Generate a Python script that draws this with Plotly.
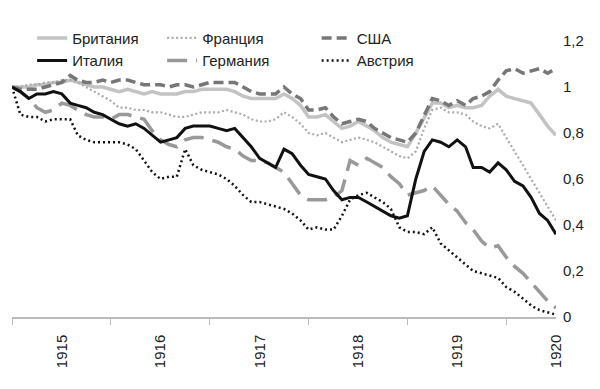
import pandas as pd
import plotly.graph_objects as go

# Monthly observations, July 1914 .. January 1920
months = pd.date_range("1914-07-01", "1920-01-01", freq="MS")

britain = [1.00, 1.00, 1.00, 1.01, 1.01, 1.02, 1.02, 1.03, 1.02, 1.01, 1.00, 1.00,
           0.99, 0.98, 0.99, 0.98, 0.97, 0.98, 0.97, 0.97, 0.97, 0.98, 0.98, 0.99,
           0.99, 0.99, 0.99, 0.98, 0.96, 0.95, 0.95, 0.95, 0.95, 0.97, 0.95, 0.92,
           0.87, 0.87, 0.88, 0.85, 0.82, 0.83, 0.85, 0.83, 0.81, 0.78, 0.76, 0.75,
           0.74, 0.80, 0.87, 0.93, 0.93, 0.91, 0.92, 0.91, 0.91, 0.92, 0.96, 0.99,
           0.96, 0.95, 0.94, 0.93, 0.88, 0.83, 0.79]
france = [1.00, 1.00, 1.01, 1.01, 1.02, 1.02, 1.03, 1.03, 1.02, 1.00, 0.98, 0.96,
          0.94, 0.91, 0.91, 0.90, 0.90, 0.89, 0.89, 0.88, 0.87, 0.87, 0.88, 0.89,
          0.89, 0.89, 0.90, 0.89, 0.88, 0.86, 0.85, 0.85, 0.86, 0.89, 0.87, 0.84,
          0.80, 0.79, 0.80, 0.78, 0.76, 0.77, 0.78, 0.77, 0.76, 0.74, 0.72, 0.70,
          0.69, 0.72, 0.82, 0.90, 0.91, 0.89, 0.89, 0.88, 0.85, 0.83, 0.82, 0.84,
          0.78, 0.72, 0.66, 0.60, 0.54, 0.48, 0.42]
usa = [1.00, 0.99, 0.99, 0.99, 1.00, 1.01, 1.02, 1.05, 1.03, 1.02, 1.02, 1.03,
       1.02, 1.03, 1.03, 1.02, 1.01, 1.01, 1.01, 1.00, 1.01, 1.01, 1.00, 1.01,
       1.02, 1.02, 1.02, 1.02, 1.00, 0.98, 0.97, 0.97, 0.97, 1.00, 0.97, 0.95,
       0.90, 0.90, 0.91, 0.87, 0.84, 0.85, 0.86, 0.85, 0.82, 0.80, 0.78, 0.77,
       0.76, 0.80, 0.88, 0.95, 0.94, 0.92, 0.94, 0.92, 0.95, 0.96, 0.98, 1.03,
       1.07, 1.08, 1.06, 1.07, 1.08, 1.06, 1.08]
italy = [1.00, 0.98, 0.95, 0.97, 0.97, 0.98, 0.97, 0.93, 0.92, 0.91, 0.89, 0.88,
         0.86, 0.84, 0.83, 0.84, 0.82, 0.79, 0.76, 0.77, 0.78, 0.82, 0.83, 0.83,
         0.83, 0.82, 0.81, 0.82, 0.78, 0.74, 0.69, 0.67, 0.65, 0.73, 0.71, 0.66,
         0.62, 0.61, 0.60, 0.55, 0.51, 0.52, 0.52, 0.50, 0.48, 0.46, 0.44, 0.43,
         0.44, 0.60, 0.72, 0.77, 0.76, 0.74, 0.77, 0.74, 0.65, 0.65, 0.63, 0.67,
         0.64, 0.59, 0.57, 0.52, 0.45, 0.42, 0.36]
germany = [1.00, 0.98, 0.95, 0.91, 0.89, 0.90, 0.93, 0.92, 0.90, 0.88, 0.87, 0.87,
           0.86, 0.88, 0.88, 0.87, 0.86, 0.81, 0.77, 0.75, 0.74, 0.77, 0.78, 0.78,
           0.77, 0.76, 0.74, 0.73, 0.70, 0.68, 0.68, 0.67, 0.65, 0.63, 0.58, 0.53,
           0.51, 0.51, 0.51, 0.52, 0.55, 0.68, 0.66, 0.69, 0.67, 0.65, 0.61, 0.58,
           0.53, 0.54, 0.55, 0.57, 0.53, 0.49, 0.46, 0.41, 0.38, 0.33, 0.30, 0.31,
           0.26, 0.22, 0.19, 0.15, 0.11, 0.07, 0.04]
austria = [1.00, 0.88, 0.87, 0.87, 0.85, 0.86, 0.86, 0.86, 0.79, 0.77, 0.76, 0.76,
           0.76, 0.76, 0.75, 0.73, 0.68, 0.63, 0.60, 0.61, 0.61, 0.73, 0.66, 0.64,
           0.63, 0.62, 0.60, 0.57, 0.53, 0.50, 0.50, 0.49, 0.48, 0.47, 0.45, 0.42,
           0.38, 0.39, 0.38, 0.38, 0.44, 0.51, 0.53, 0.54, 0.52, 0.50, 0.47, 0.39,
           0.37, 0.37, 0.36, 0.39, 0.32, 0.29, 0.26, 0.23, 0.20, 0.19, 0.18, 0.17,
           0.13, 0.11, 0.08, 0.05, 0.03, 0.02, 0.01]

year_labels = ["1915", "1916", "1917", "1918", "1919", "1920"]
year_ticks = ["1915-01-01", "1916-01-01", "1917-01-01", "1918-01-01", "1919-01-01", "1920-01-01"]
y_ticks = [0, 0.2, 0.4, 0.6, 0.8, 1.0, 1.2]
y_labels = ["0", "0,2", "0,4", "0,6", "0,8", "1", "1,2"]

FONT = "Liberation Sans, Arial, sans-serif"

series = [
    ("Британия", britain, dict(color="#c3c3c3", width=3.5, dash="solid"), "legend"),
    ("Италия", italy, dict(color="#111111", width=3, dash="solid"), "legend"),
    ("Франция", france, dict(color="#aaaaaa", width=2.2, dash="2px,2.5px"), "legend2"),
    ("Германия", germany, dict(color="#999999", width=3.5, dash="20px,9px"), "legend2"),
    ("США", usa, dict(color="#777777", width=3.5, dash="10px,5px"), "legend3"),
    ("Австрия", austria, dict(color="#111111", width=2.5, dash="2px,3px"), "legend3"),
]

fig = go.Figure()
draw_order = ["Британия", "Франция", "США", "Германия", "Италия", "Австрия"]
lookup = {s[0]: s for s in series}
for name in draw_order:
    n, vals, line, lg = lookup[name]
    fig.add_trace(go.Scatter(x=months, y=vals, mode="lines", name=n, line=line,
                             legend=lg, hoverinfo="skip"))

legend_common = dict(font=dict(family=FONT, size=15, color="#222"), bgcolor="rgba(0,0,0,0)",
                     orientation="v", xanchor="left", yanchor="top", y=1.07,
                     tracegroupgap=0, itemwidth=30, traceorder="normal")
fig.update_layout(
    width=600, height=389,
    margin=dict(l=12, r=44, t=41, b=72, autoexpand=False),
    paper_bgcolor="white", plot_bgcolor="white",
    font=dict(family=FONT, size=15, color="#222"),
    showlegend=True,
    legend=dict(x=0.037, **legend_common),
    legend2=dict(x=0.276, **legend_common),
    legend3=dict(x=0.56, **legend_common),
    xaxis=dict(
        type="date",
        range=["1914-07-01", "1920-01-01"],
        showgrid=False, zeroline=False,
        showline=True, linecolor="#bbbbbb", linewidth=1.5,
        tickmode="array", tickvals=year_ticks, ticktext=year_labels,
        tickangle=-90, ticks="outside", ticklen=10, tickcolor="rgba(0,0,0,0)",
        tickfont=dict(family=FONT, size=15, color="#222"),
        minor=dict(ticks="outside", ticklen=6, tickcolor="#bbbbbb", tickwidth=1.2,
                   tick0="1914-07-01", dtick="M12", showgrid=False),
    ),
    yaxis=dict(
        side="right", range=[0, 1.2],
        showgrid=False, zeroline=False, showline=False,
        tickmode="array", tickvals=y_ticks, ticktext=y_labels,
        ticks="", ticklabelstandoff=6,
        tickfont=dict(family=FONT, size=15, color="#222"),
    ),
)
fig.write_html("out.html", config={"displayModeBar": False},
               post_script="document.body.style.margin='0';document.body.style.overflow='hidden';")
